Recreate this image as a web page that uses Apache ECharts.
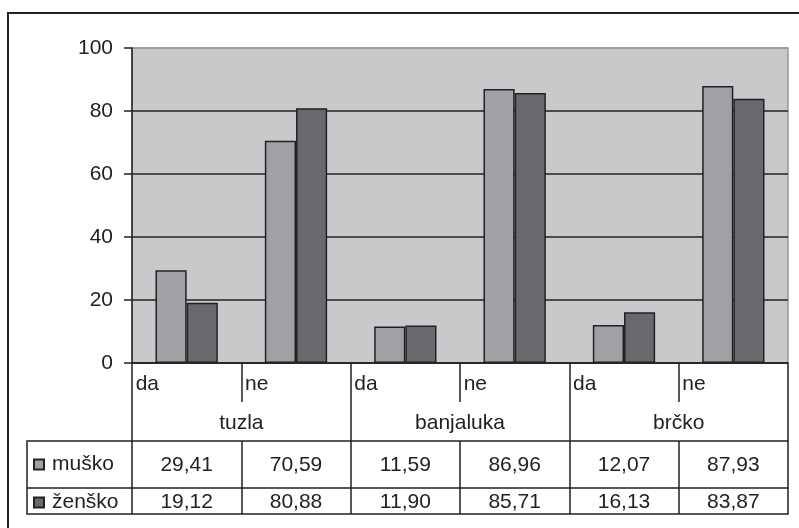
<!DOCTYPE html>
<html>
<head>
<meta charset="utf-8">
<script src="https://cdn.jsdelivr.net/npm/echarts@6/dist/echarts.min.js"></script>
<style>
  html, body { margin: 0; padding: 0; background: #fff; }
  #chart { width: 799px; height: 528px; }
</style>
</head>
<body>
<div id="chart"></div>
<script>
// podaci
const answers = ['da', 'ne', 'da', 'ne', 'da', 'ne'];
const cities = ['tuzla', 'banjaluka', 'brčko'];
const seriesNames = ['muško', 'ženško'];
const musko = [29.41, 70.59, 11.59, 86.96, 12.07, 87.93];
const zensko = [19.12, 80.88, 11.90, 85.71, 16.13, 83.87];
const yTicks = [0, 20, 40, 60, 80, 100];

const ink = '#222';
const font = 'Liberation Sans, Arial, sans-serif';
const fs = 21;

// raspored
const gridLeft = 132, gridTop = 48, gridRight = 11, gridBottom = 165;
const axisY = 528 - gridBottom;      // y=0 linija
const row1 = 78, row2 = 125, row3 = 151; // pomak redova tablice
const tableLeft = 27;

const fmt = v => Number(v).toFixed(2).replace('.', ',');

const chart = echarts.init(document.getElementById('chart'));

const tableAxis = (data, offset, extra) => Object.assign({
  type: 'category',
  gridIndex: 0,
  position: 'bottom',
  offset: offset,
  data: data,
  axisLine: { show: true, lineStyle: { color: ink, width: 1.5 } },
  axisTick: { show: false },
  axisLabel: { show: false },
  splitLine: { show: false }
}, extra);

chart.setOption({
  animation: false,
  textStyle: { fontFamily: font },
  grid: {
    left: gridLeft, top: gridTop, right: gridRight, bottom: gridBottom,
    show: true,
    backgroundColor: '#c8c9cb',
    borderColor: '#999',
    borderWidth: 1.5
  },
  legend: {
    data: seriesNames,
    orient: 'vertical',
    left: 33,
    top: axisY + row1 + 13,
    padding: 0,
    icon: 'rect',
    itemWidth: 10,
    itemHeight: 10,
    itemGap: 17,
    selectedMode: false,
    textStyle: { fontSize: fs, color: ink, lineHeight: 20, fontFamily: font, padding: [0, 0, 0, 3] }
  },
  xAxis: [
    {
      type: 'category',
      data: answers,
      axisLine: { lineStyle: { color: ink, width: 1.5 } },
      axisTick: { show: true, interval: 0, length: 39, lineStyle: { color: ink, width: 1.5 } },
      axisLabel: {
        interval: 0,
        margin: 11,
        formatter: v => '{l|' + v + '}',
        rich: { l: { width: 102, align: 'left', fontSize: fs, lineHeight: 20, color: ink, fontFamily: font } }
      }
    },
    tableAxis(cities, 0, {
      axisLine: { show: false },
      axisTick: { show: true, interval: 0, length: row3, lineStyle: { color: ink, width: 1.5 } },
      axisLabel: { show: true, interval: 0, margin: 50, fontSize: fs, lineHeight: 20, color: ink }
    }),
    tableAxis(musko, row1, {
      axisTick: { show: true, interval: 0, length: row3 - row1, lineStyle: { color: ink, width: 1.5 } },
      axisLabel: { show: true, interval: 0, margin: 14, fontSize: fs, lineHeight: 20, color: ink, formatter: fmt }
    }),
    tableAxis(zensko, row2, {
      axisLabel: { show: true, interval: 0, margin: 4, fontSize: fs, lineHeight: 20, color: ink, formatter: fmt }
    }),
    tableAxis(answers, row3, {})
  ],
  yAxis: {
    type: 'value',
    min: yTicks[0],
    max: yTicks[yTicks.length - 1],
    interval: 20,
    axisLine: { show: true, lineStyle: { color: ink, width: 1.5 } },
    axisTick: { show: true, length: 8, lineStyle: { color: ink, width: 1.5 } },
    axisLabel: { fontSize: fs, color: ink, margin: 19 },
    splitLine: { show: true, lineStyle: { color: [ink, ink, ink, ink, ink, '#999'], width: 1.5 } }
  },
  series: [
    {
      name: seriesNames[0],
      type: 'bar',
      data: musko,
      barGap: 0,
      barCategoryGap: '43%',
      itemStyle: { color: '#a0a1a5', borderColor: ink, borderWidth: 1.5 },
      emphasis: { disabled: true }
    },
    {
      name: seriesNames[1],
      type: 'bar',
      data: zensko,
      barGap: 0,
      barCategoryGap: '43%',
      itemStyle: { color: '#68696d', borderColor: ink, borderWidth: 1.5 },
      emphasis: { disabled: true }
    }
  ],
  graphic: [
    {
      type: 'rect',
      shape: { x: 8, y: 13, width: 900, height: 700 },
      style: { fill: 'none', stroke: ink, lineWidth: 2 },
      silent: true,
      z: 0
    },
    {
      type: 'polyline',
      shape: { points: [[gridLeft, axisY + row1], [tableLeft, axisY + row1], [tableLeft, axisY + row3], [gridLeft, axisY + row3]] },
      style: { fill: 'none', stroke: ink, lineWidth: 1.5 },
      silent: true
    },
    {
      type: 'line',
      shape: { x1: tableLeft, y1: axisY + row2, x2: gridLeft, y2: axisY + row2 },
      style: { stroke: ink, lineWidth: 1.5 },
      silent: true
    }
  ]
});
</script>
</body>
</html>
